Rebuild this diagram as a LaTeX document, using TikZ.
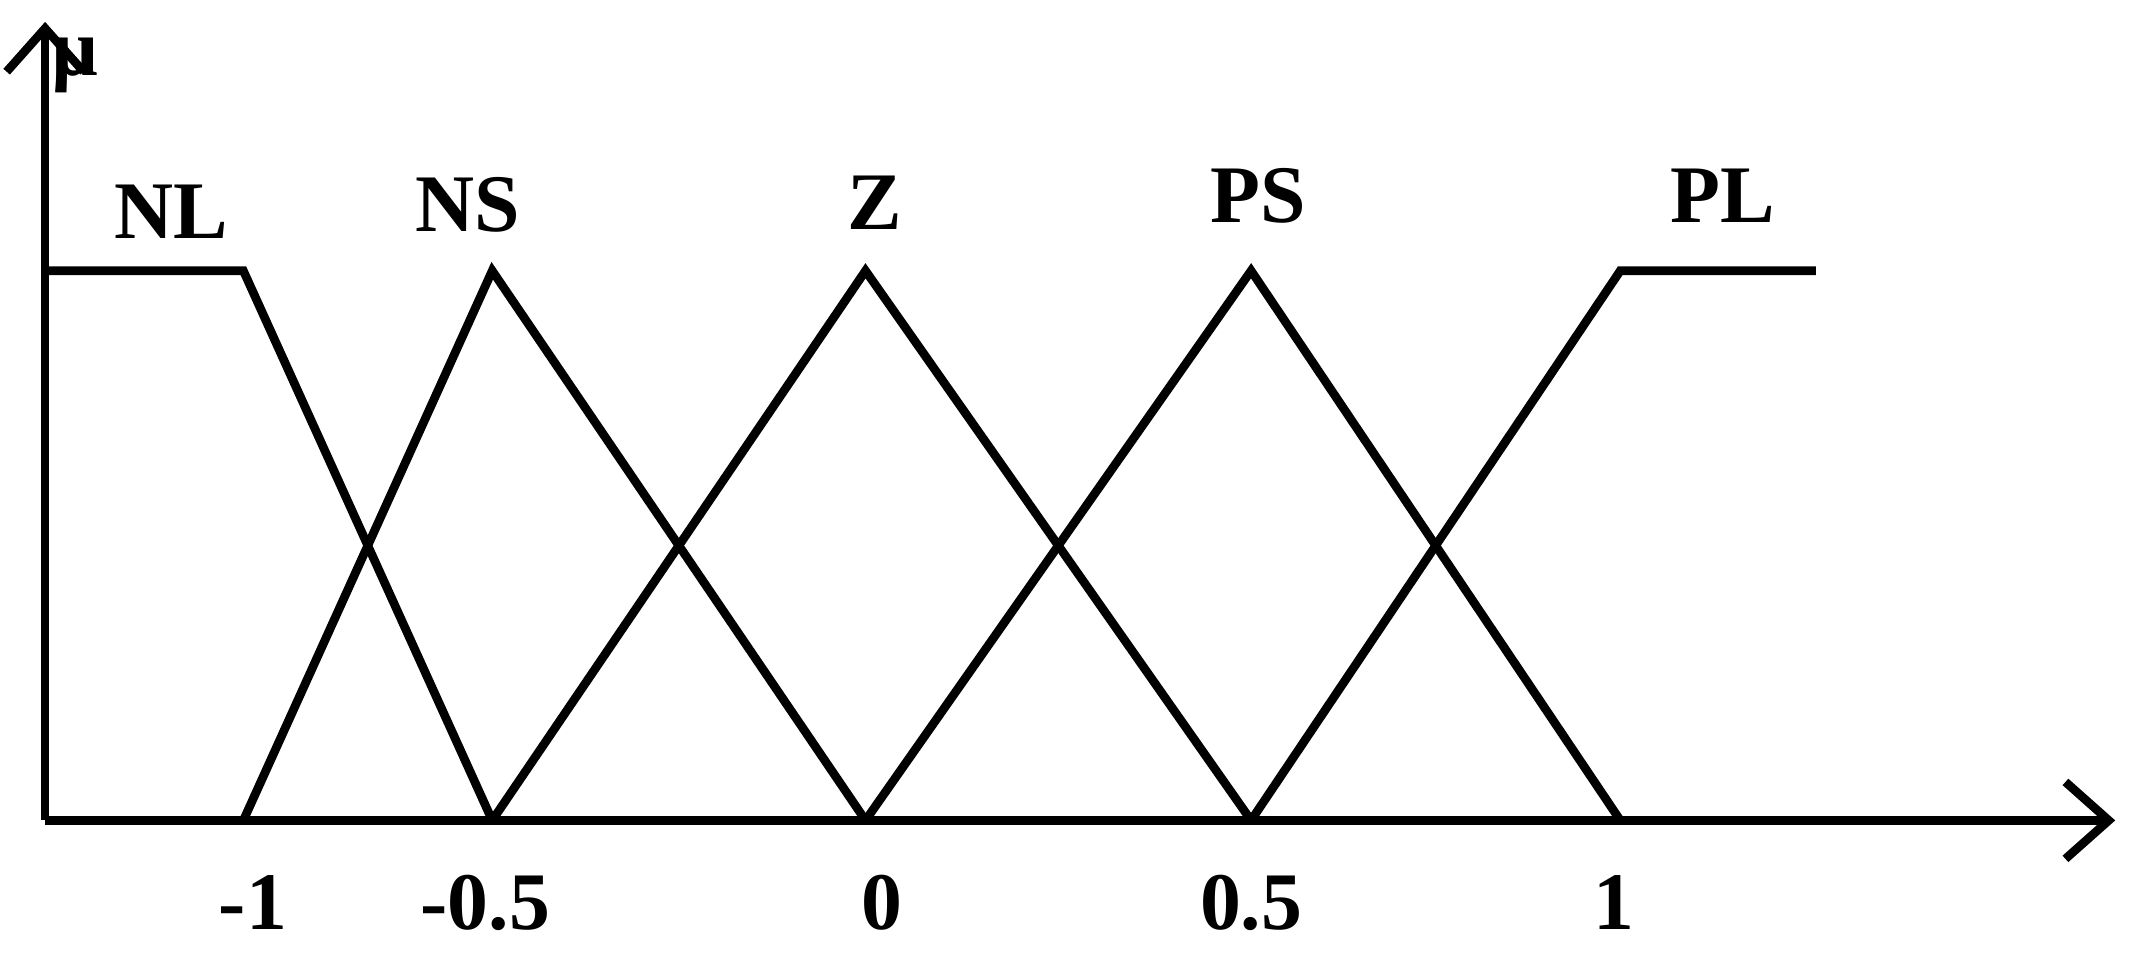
\documentclass[tikz,border=0pt]{standalone}
\usepackage{fontspec}
\setmainfont{Liberation Serif}
\usetikzlibrary{arrows.meta}
\begin{document}
\begin{tikzpicture}[x=0.01cm,y=-0.01cm,
  mf/.style={line width=1.8pt,line join=miter},
  ax/.style={line width=1.8pt,-{Straight Barb[length=9pt,width=16pt,line width=1.8pt]}},
  lbl/.style={font=\fontsize{17}{20}\selectfont\bfseries,inner sep=0pt}]
\useasboundingbox (0,0) rectangle (1560,702);
\coordinate (o) at (33,600);
\coordinate (ytop) at (33,16);
\coordinate (xend) at (1547,600);
\draw[ax] (o) -- (ytop);
\draw[ax] (o) -- (xend);
\draw[mf] (33,198) -- (178,198) -- (360,600);
\draw[mf] (178,600) -- (360,198) -- (633,600);
\draw[mf] (360,600) -- (633,198) -- (915,600);
\draw[mf] (633,600) -- (915,198) -- (1185,600);
\draw[mf] (915,600) -- (1185,198) -- (1328,198);
\node[lbl] (mu) at (55,48) {µ};
\node[lbl] (nl) at (125,155) {NL};
\node[lbl] (ns) at (342,150) {NS};
\node[lbl] (z) at (640,148) {Z};
\node[lbl] (ps) at (920,143) {PS};
\node[lbl] (pl) at (1260,143) {PL};
\node[lbl] (t1) at (185,660) {-1};
\node[lbl] (t2) at (355,660) {-0.5};
\node[lbl] (t3) at (645,660) {0};
\node[lbl] (t4) at (915,660) {0.5};
\node[lbl] (t5) at (1180,660) {1};
\end{tikzpicture}
\end{document}
